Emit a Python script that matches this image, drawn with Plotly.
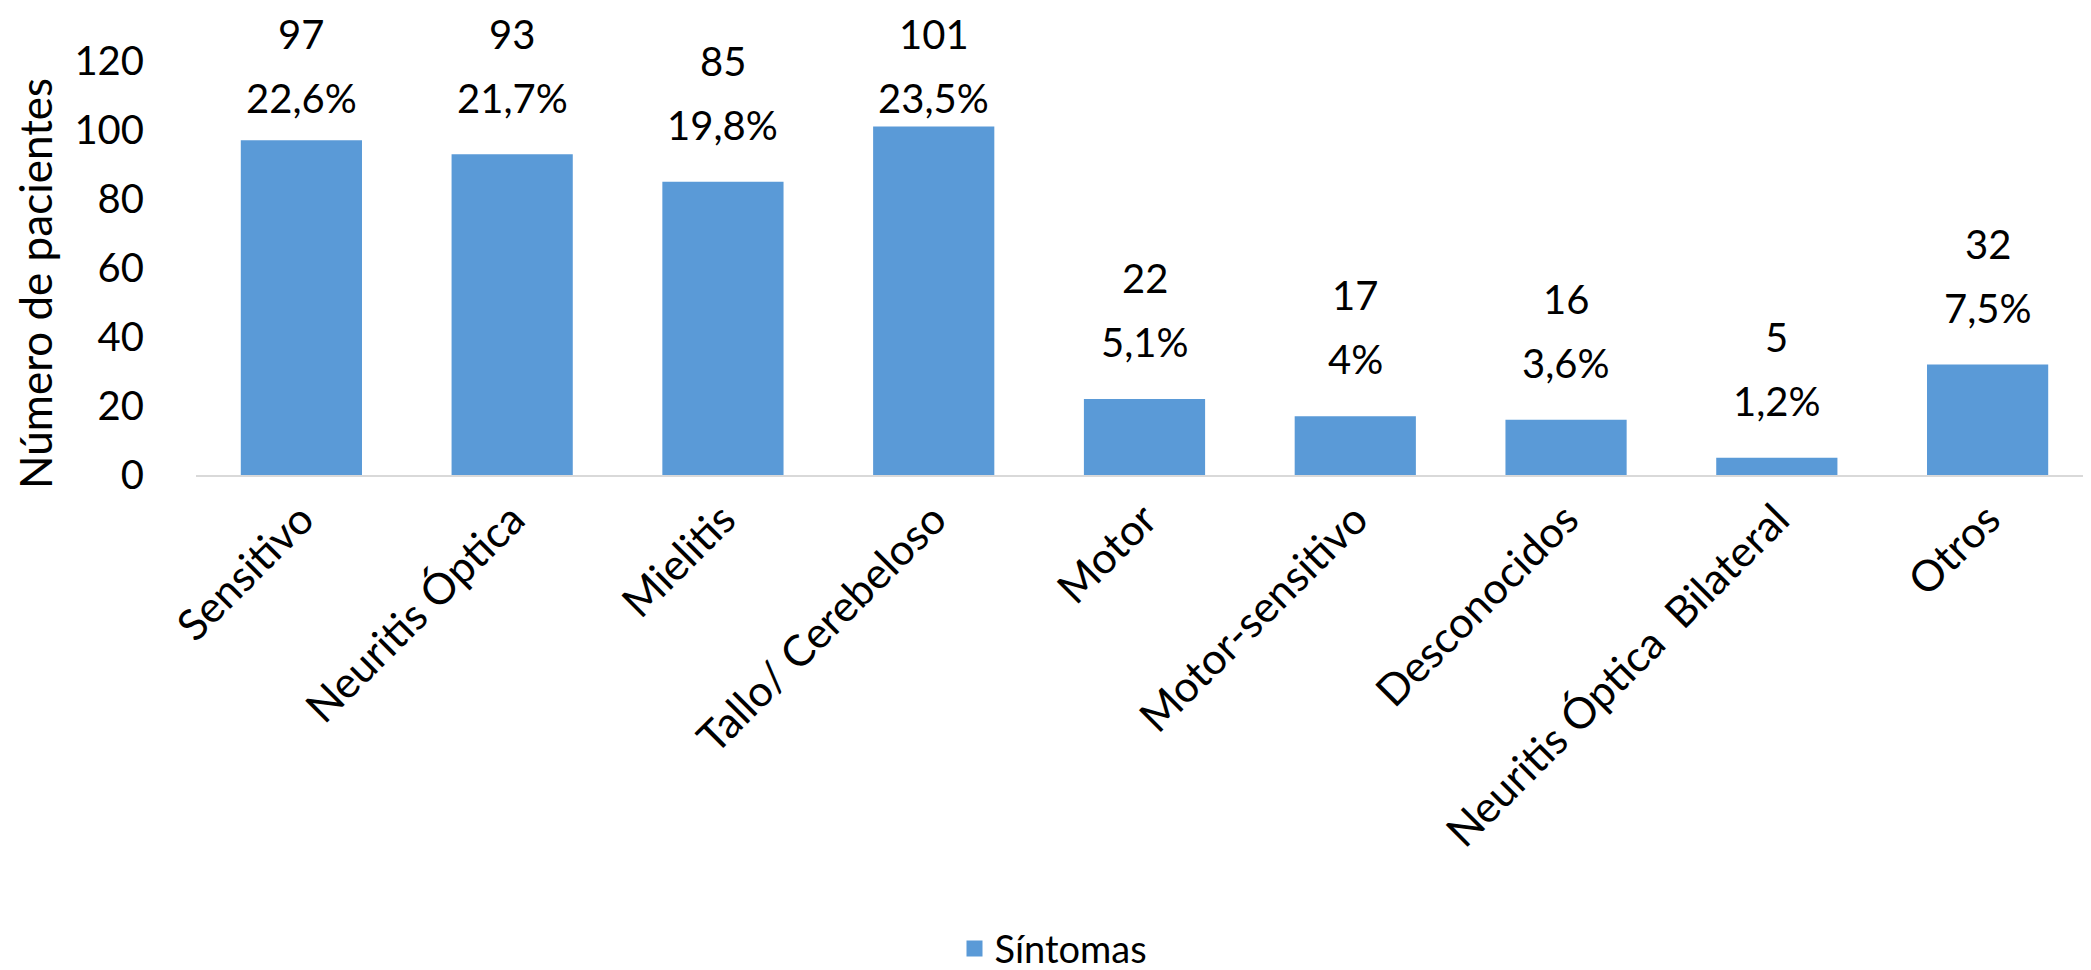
import plotly.graph_objects as go

categories = ["Sensitivo", "Neuritis Óptica", "Mielitis", "Tallo/ Cerebeloso", "Motor",
              "Motor-sensitivo", "Desconocidos", "Neuritis Óptica  Bilateral", "Otros"]
counts = [97, 93, 85, 101, 22, 17, 16, 5, 32]
percents = ["22,6%", "21,7%", "19,8%", "23,5%", "5,1%", "4%", "3,6%", "1,2%", "7,5%"]
y_ticks = [0, 20, 40, 60, 80, 100, 120]
series_name = "Síntomas"
y_title = "Número de pacientes"

FONT = "Lato, 'Noto Sans', sans-serif"
NUM_FS = 40
XL_FS = 43
TITLE_FS = 44
LEG_FS = 38
BAR_COLOR = "#5A9AD7"

W, H = 2091, 970
M_L, M_R, M_T, M_B = 188, 6, 53, 503
Y_MAX = 120
plot_h = H - M_T - M_B
plot_w = W - M_L - M_R

fig = go.Figure()
fig.add_trace(go.Bar(
    x=categories, y=counts, name=series_name,
    marker=dict(color=BAR_COLOR, line=dict(width=0)),
    showlegend=False,
))
# legend entry with a larger square swatch
fig.add_trace(go.Scatter(
    x=[None], y=[None], mode="markers", name=series_name,
    marker=dict(symbol="square", size=26, color=BAR_COLOR),
    showlegend=True,
))

# data labels: two lines above each bar, kept inside the chart area like the original
annotations = []
for c, v, p in zip(categories, counts, percents):
    bar_top_px = M_T + (Y_MAX - v) / Y_MAX * plot_h
    count_shift = min(121, bar_top_px - 26)
    pct_shift = count_shift - 64
    annotations.append(dict(x=c, y=v, xref="x", yref="y", text=str(v), showarrow=False,
                            yshift=count_shift, yanchor="middle",
                            font=dict(family=FONT, size=NUM_FS, color="#000")))
    annotations.append(dict(x=c, y=v, xref="x", yref="y", text=p, showarrow=False,
                            yshift=pct_shift, yanchor="middle",
                            font=dict(family=FONT, size=NUM_FS, color="#000")))

# y-axis title
annotations.append(dict(x=(27 - M_L) / plot_w, y=(H - M_B - 276) / plot_h, xref="paper", yref="paper",
                        text=y_title, textangle=-90, showarrow=False,
                        xanchor="center", yanchor="middle",
                        font=dict(family=FONT, size=TITLE_FS, color="#000")))

fig.update_layout(
    width=W, height=H,
    margin=dict(l=M_L, r=M_R, t=M_T, b=M_B),
    paper_bgcolor="white", plot_bgcolor="white",
    bargap=0.425,
    font=dict(family=FONT, size=NUM_FS, color="#000"),
    annotations=annotations,
    showlegend=True,
    legend=dict(orientation="h", xref="container", yref="container", x=0.5, y=0.03,
                xanchor="center", yanchor="middle", itemsizing="trace",
                font=dict(family=FONT, size=LEG_FS, color="#000")),
    xaxis=dict(type="category", tickangle=-45, showgrid=False, showline=True,
               linecolor="#D9D9D9", linewidth=2, ticks="", ticklabelstandoff=0,
               tickfont=dict(family=FONT, size=XL_FS, color="#000"), automargin=False),
    yaxis=dict(range=[0, Y_MAX], tickvals=y_ticks, showgrid=False, showline=False, zeroline=False,
               ticks="", ticklabelstandoff=51,
               tickfont=dict(family=FONT, size=NUM_FS, color="#000"),
               automargin=False),
)

fig.write_html("out.html")
